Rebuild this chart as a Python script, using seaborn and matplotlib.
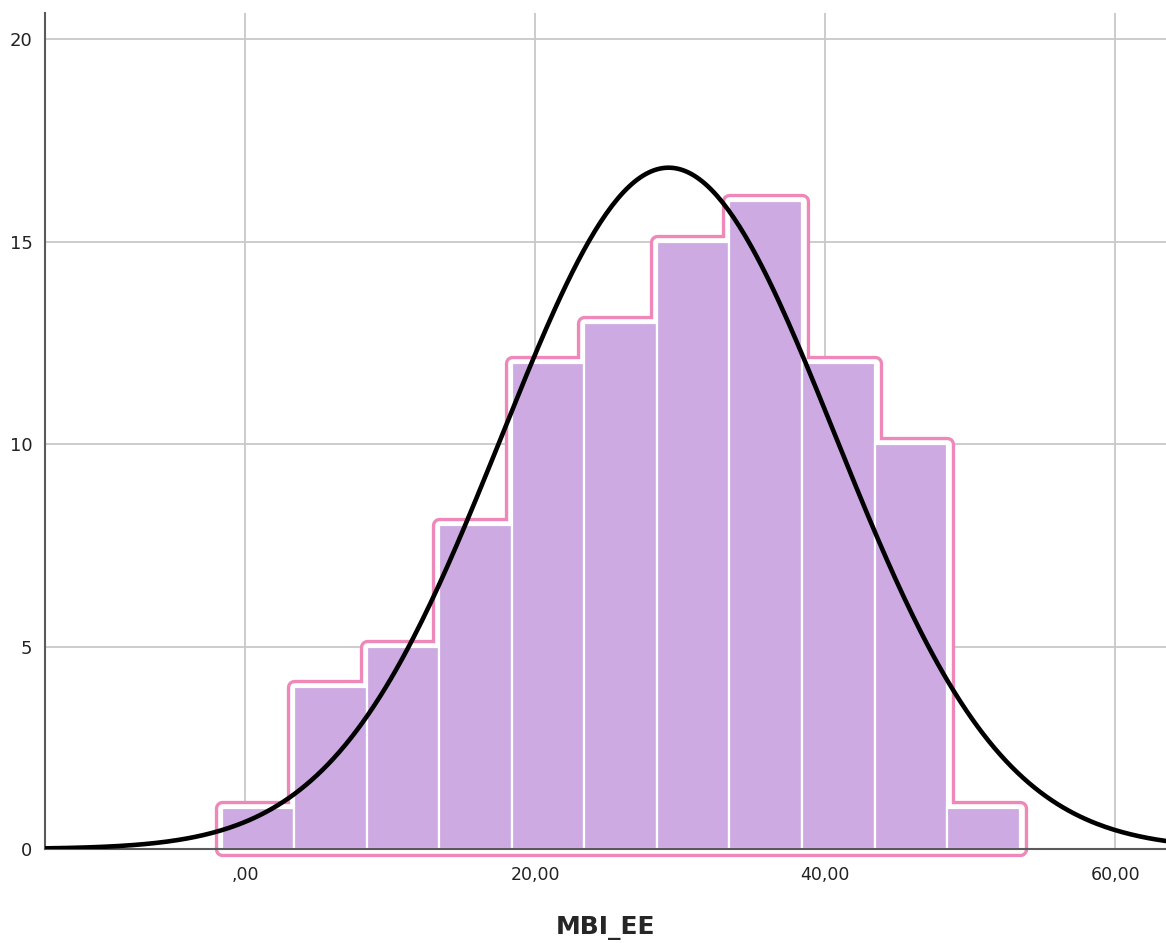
import numpy as np
import matplotlib
matplotlib.use("Agg")
import matplotlib.pyplot as plt
import matplotlib.patheffects as pe
import seaborn as sns

# histogram data
bin_edges = [-1.6, 3.4, 8.4, 13.4, 18.4, 23.4, 28.4, 33.4, 38.4, 43.4, 48.4, 53.4]
bin_centers = [0.9, 5.9, 10.9, 15.9, 20.9, 25.9, 30.9, 35.9, 40.9, 45.9, 50.9]
counts = [1, 4, 5, 8, 12, 13, 15, 16, 12, 10, 1]

# fitted normal curve parameters
mean_ee = 29.2
sd_ee = 11.5
n_ee = sum(counts)

x_ticks = [0, 20, 40, 60]
x_ticklabels = [",00", "20,00", "40,00", "60,00"]
y_ticks = [0, 5, 10, 15, 20]

purple = "#CEAAE2"
pink = "#EE88B8"

sns.set_style("white")
plt.rcParams["font.family"] = ["DejaVu Sans"]

fig = plt.figure(figsize=(11.66, 9.43), dpi=100)
ax = fig.add_axes([0.0386, 0.0997, 0.9614, 0.8863])

# pink outline around the histogram
sns.histplot(x=bin_centers, weights=counts, bins=bin_edges, element="step",
             fill=True, color="white", alpha=1, linewidth=0, ax=ax)
outline = ax.collections[-1]
outline.set_facecolor("white")
outline.set_path_effects([
    pe.Stroke(linewidth=11, foreground=pink, joinstyle="round"),
    pe.Stroke(linewidth=6.2, foreground="white", joinstyle="round"),
])
outline.set_zorder(0.8)
outline.set_clip_on(False)

# bars
sns.histplot(x=bin_centers, weights=counts, bins=bin_edges, element="bars",
             color=purple, alpha=1, edgecolor="white", linewidth=1.6, ax=ax)
for p in ax.patches:
    p.set_zorder(1)

# normal curve
xs = np.linspace(-14, 64, 400)
ys = n_ee * 5 / (sd_ee * np.sqrt(2 * np.pi)) * np.exp(-0.5 * ((xs - mean_ee) / sd_ee) ** 2)
sns.lineplot(x=xs, y=ys, color="black", linewidth=3.3, ax=ax, zorder=3)

ax.set_xlim(-13.8, 63.5)
ax.set_ylim(0, 20.64)
ax.set_xticks(x_ticks)
ax.set_xticklabels(x_ticklabels, fontsize=12.5, color="#222222")
ax.set_yticks(y_ticks)
ax.set_yticklabels([str(v) for v in y_ticks], fontsize=13, color="#222222")
ax.tick_params(length=0, pad=12)
ax.tick_params(axis="y", pad=9)

ax.grid(True, color="#C8C8C8", linewidth=1.3)
ax.set_axisbelow(True)

for s in ["top", "right"]:
    ax.spines[s].set_visible(False)
for s in ["left", "bottom"]:
    ax.spines[s].set_color("#5A5A5A")
    ax.spines[s].set_linewidth(1.5)
    ax.spines[s].set_zorder(2)

ax.set_xlabel("MBI_EE", fontsize=18, fontweight="bold", labelpad=23)
ax.set_ylabel("")

fig.savefig("out.png", dpi=100)
